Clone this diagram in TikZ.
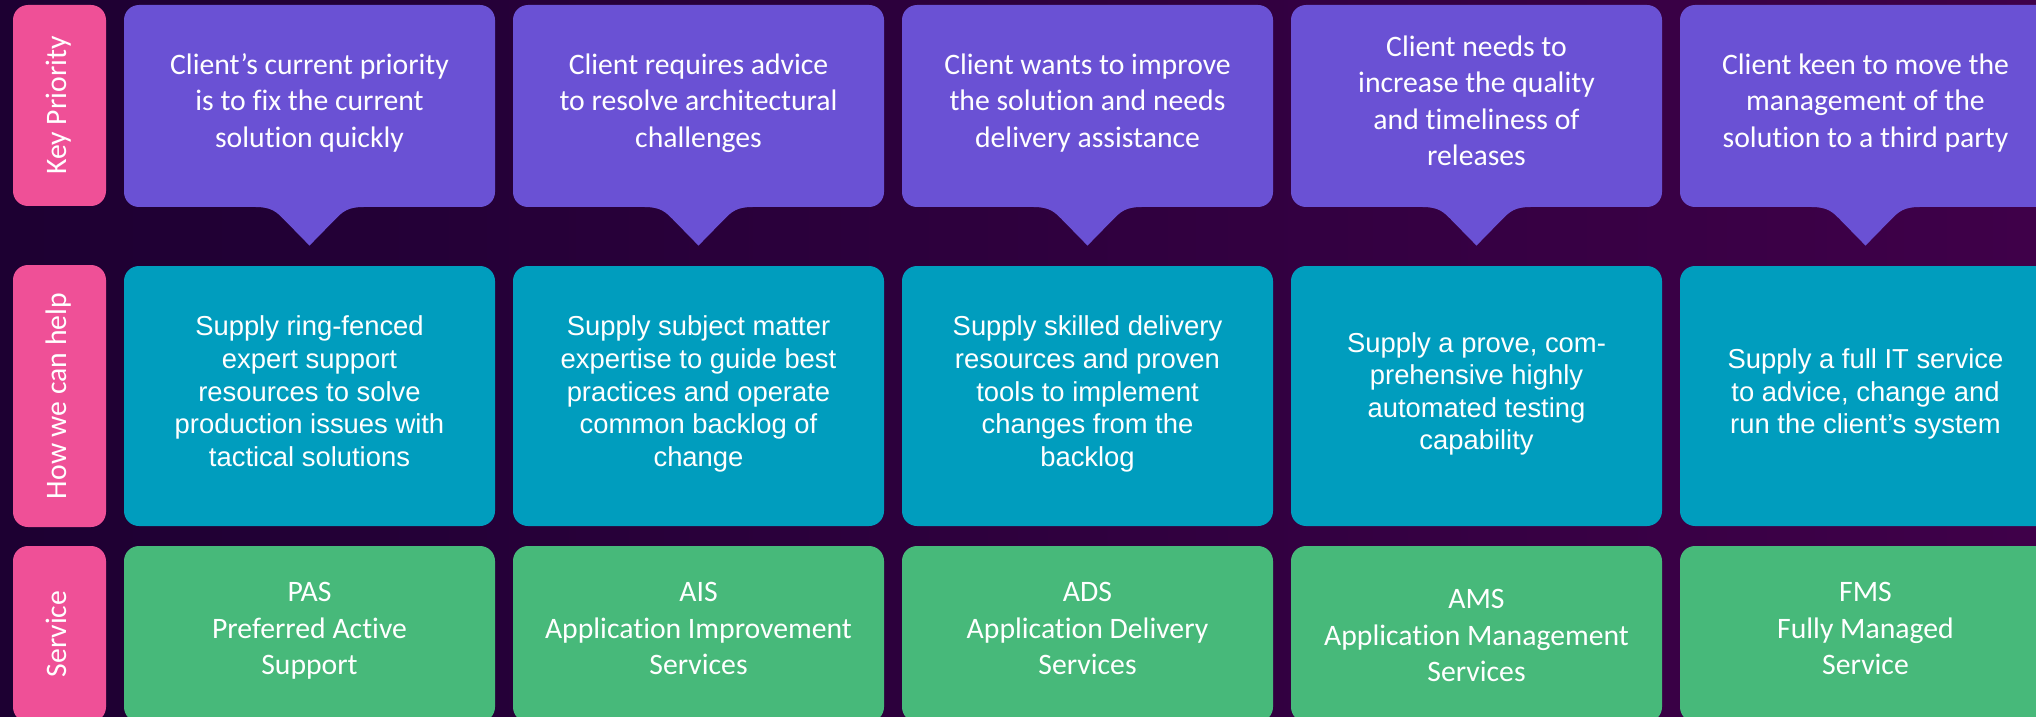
\documentclass[tikz,border=0pt]{standalone}
\usepackage{fontspec}
\setmainfont{Carlito}[Ligatures=NoCommon]
\newfontfamily\bodyfont{Liberation Sans}
\usetikzlibrary{calc}

\definecolor{bgleft}{RGB}{29,0,50}
\definecolor{bgright}{RGB}{63,0,73}
\definecolor{tagpink}{RGB}{239,80,151}
\definecolor{needpurple}{RGB}{106,81,212}
\definecolor{helpteal}{RGB}{0,157,190}
\definecolor{svcgreen}{RGB}{71,185,122}

\tikzset{
  box/.style={rounded corners=7.5pt, inner sep=0pt, outer sep=0pt,
    text=white, align=center,
    execute at begin node=\strut, execute at end node=\strut},
  headfont/.style={font=\fontsize{14.85pt}{18.25pt}\selectfont},
  tag/.style={box, headfont, fill=tagpink, rotate=90, minimum height=46.5pt},
  need/.style={box, headfont, fill=needpurple, minimum width=185.5pt, minimum height=101pt},
  help/.style={box, font=\bodyfont\fontsize{13.7pt}{16.3pt}\selectfont,
    fill=helpteal, minimum width=185.5pt, minimum height=130pt},
  svc/.style={box, headfont, fill=svcgreen, minimum width=185.5pt, minimum height=88pt},
}

\begin{document}
\begin{tikzpicture}
  \path[use as bounding box] (0,0) rectangle (1018pt,-358.5pt);
  \clip (0,0) rectangle (1018pt,-358.5pt);
  \shade[left color=bgleft, right color=bgright] (0,0) rectangle (1018pt,-358.5pt);

  % row headings
  \node[tag, minimum width=100.5pt] (t1) at (29.75pt,-52.75pt) {Key Priority};
  \node[tag, minimum width=131pt]   (t2) at (29.75pt,-198pt)   {How we can help};
  \node[tag, minimum width=88pt]    (t3) at (29.75pt,-317pt)   {Service};

  % key priorities
  \node[need] (k1) at (154.75pt,-53pt) {Client’s current priority\\is to fix the current\\solution quickly};
  \node[need] (k2) at (349.25pt,-53pt) {Client requires advice\\to resolve architectural\\challenges};
  \node[need] (k3) at (543.75pt,-53pt) {Client wants to improve\\the solution and needs\\delivery assistance};
  \node[need] (k4) at (738.25pt,-53pt) {Client needs to\\increase the quality\\and timeliness of\\releases};
  \node[need] (k5) at (932.75pt,-53pt) {Client keen to move the\\management of the\\solution to a third party};

  % speech-bubble tails under the priorities
  \foreach \i in {1,...,5} {
    \fill[needpurple, shift={(k\i.south)}]
      (-27pt,1pt) -- (-27pt,0pt)
      .. controls (-19pt,0pt) and (-16.5pt,-2.5pt) .. (-13pt,-6pt)
      -- (0pt,-19.3pt) -- (13pt,-6pt)
      .. controls (16.5pt,-2.5pt) and (19pt,0pt) .. (27pt,0pt)
      -- (27pt,1pt) -- cycle;
  }

  % how we can help
  \node[help] (h1) at (154.75pt,-198pt) {Supply ring-fenced\\expert support\\resources to solve\\production issues with\\tactical solutions};
  \node[help] (h2) at (349.25pt,-198pt) {Supply subject matter\\expertise to guide best\\practices and operate\\common backlog of\\change};
  \node[help] (h3) at (543.75pt,-198pt) {Supply skilled delivery\\resources and proven\\tools to implement\\changes from the\\backlog};
  \node[help] (h4) at (738.25pt,-198pt) {Supply a prove, com-\\prehensive highly\\automated testing\\capability};
  \node[help] (h5) at (932.75pt,-198pt) {Supply a full IT service\\to advice, change and\\run the client’s system};

  % services (the AMS block sits a little lower than its neighbours)
  \node[svc] (s1) at (154.75pt,-317pt) {PAS\\Preferred Active\\Support};
  \node[svc] (s2) at (349.25pt,-317pt) {AIS\\Application Improvement\\Services};
  \node[svc] (s3) at (543.75pt,-317pt) {ADS\\Application Delivery\\Services};
  \node[svc] (s4) at (738.25pt,-317pt) {\rule{0pt}{16.8pt}AMS\\Application Management\\Services};
  \node[svc] (s5) at (932.75pt,-317pt) {FMS\\Fully Managed\\Service};
\end{tikzpicture}
\end{document}
